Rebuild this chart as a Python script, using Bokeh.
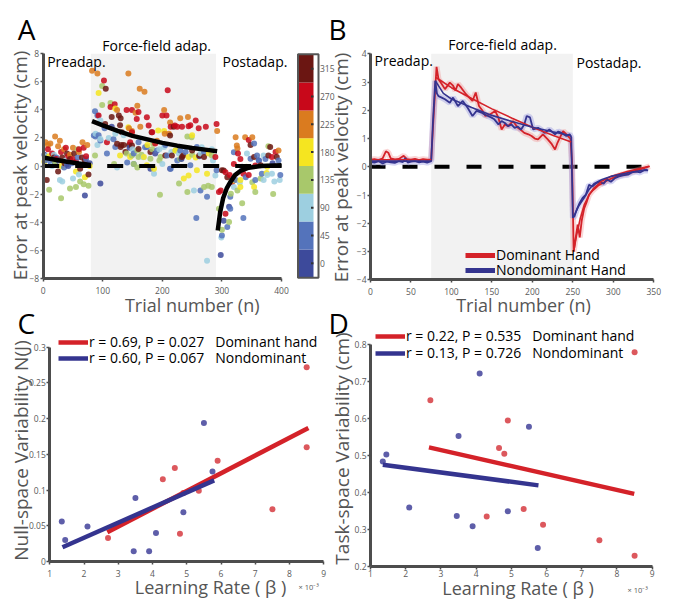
import math
from bokeh.plotting import figure
from bokeh.models import (Range1d, Label, Legend, LegendItem, FixedTicker, LinearAxis,
                          NumeralTickFormatter, ColumnDataSource)
from bokeh.embed import file_html
from bokeh.resources import INLINE

FONT = "Open Sans"
AX = "#4d4d4d"
TICKC = "#5a5a5a"
LABC = "#555555"
W, H = 674, 599

# ---------------- Panel A : trial errors per target direction ----------------
dir_angles = [0, 45, 90, 135, 180, 225, 270, 315]
dir_colors = ["#3d4a9b", "#5473bb", "#9dcfe0", "#a8c86b",
              "#f5e520", "#da7b1f", "#c8081a", "#6b1612"]

a_t000 = [2, 20, 26, 42, 60, 70, 78, 96, 115, 145, 188, 232, 262, 298, 303, 312, 362, 385, 180, 213]
a_e000 = [0.8, 0.2, 0.4, 0.0, 0.1, -2.1, 0.2, -1.25, 2.8, 1.3, 0.9, 0.5, 0.7, -6.35, -3.9, -2.9, 0.4, 0.2, -0.2, -0.2]
a_t045 = [3, 12, 22, 35, 40, 48, 58, 72,
          85, 87, 88, 91, 93, 103, 107, 118, 121, 141, 152, 160, 174, 191, 205, 208, 214, 239, 247, 257, 258, 264, 270, 275, 291,
          300, 309, 314, 314, 320, 323, 334, 336, 340, 348, 354, 356, 359, 362, 367, 373, 395, 398,
          96, 152, 171, 225, 230]
a_e045 = [0.4, 0.3, 0.6, -0.1, 0.1, 0.2, 0.6, 0.5,
          2.17, 3.9, 2.1, 3.6, 2.2, 2.7, 0.9, 1.9, 1.35, 0.25, 0.9, 1.7, 1.35, 1.1, 1.5, 0.75, -0.2, 1.0, 0.05, -3.7, 1.35, -1.75, 1.0, -2.2, -0.3,
          -4.95, -4.35, -3.05, -2.2, 0.98, -1.0, -0.05, -3.7, -0.8, 0.51, 1.6, -1.0, 0.75, 0.4, -0.55, 0.5, 0.4, -0.65,
          1.82, 0.15, 1.34, 0.4, 1.1]
a_t090 = [5, 15, 18, 28, 32, 38, 50, 60, 91, 96, 96, 110, 121, 124, 135, 150, 186, 200, 203, 215, 228, 253, 264, 275, 283, 285,
          299, 320, 330, 342, 370, 370, 376, 384, 388, 397, 88, 168, 195, 266, 289]
a_e090 = [0.7, 0.0, 0.8, -1.0, -1.1, 0.4, -0.9, -0.6, 1.5, 3.25, 1.93, 2.0, 2.3, -0.1, 2.2, 1.2, -0.55, 0.15, 1.35, 1.0, 0.9, -1.75, 0.9, -6.75, 1.2, 0.4,
          -5.1, -1.5, -1.2, 0.9, 0.75, -1.0, -0.65, -0.55, -1.1, -1.0, 2.3, 0.63, 1.2, 1.34, -0.68]
a_t135 = [10, 20, 30, 45, 55, 58, 62, 68, 76, 99, 99, 113, 119, 140, 152, 158, 158, 160, 165, 183, 185, 196, 197, 222, 228, 242, 242, 250,
          270, 277, 283, 295, 300, 312, 315, 326, 334, 341, 351, 356, 365, 378, 386,
          87, 149, 180, 195, 230, 249, 283]
a_e135 = [-1.7, 0.3, -2.3, -1.6, -1.5, 1.2, -1.1, -1.3, -1.4, 5.7, 4.35, 4.5, 0.15, 0.9, 0.15, 1.1, -0.1, 0.65, 0.8, 1.2, 1.6, -2.05, 0.65, 1.1, -1.25, 2.1, -1.85, 0.8,
          -1.5, -1.4, -1.5, -3.05, -4.55, -4.0, -1.98, -1.75, -2.65, -0.05, -1.15, -1.85, -0.9, 1.4, -2.0,
          0.75, 0.75, 0.51, 0.4, 0.5, 2.05, 0.75]
a_t180 = [2, 10, 30, 55, 70, 78, 93, 121, 129, 143, 146, 169, 174, 175, 203, 236, 244, 250, 258, 275, 278, 320, 331, 331, 354, 375, 376,
          186, 193, 222, 244, 256]
a_e180 = [0.3, 0.7, 0.0, -0.4, -0.8, 0.0, 5.2, 4.1, 0.75, 2.76, 0.65, 0.65, 0.05, 1.5, 2.5, -0.9, 0.65, 2.2, -0.3, -0.55, 0.9, -1.03, -1.0, -1.5, -1.5, -0.5, -0.05,
          -0.2, 2.53, 1.1, -0.68, 0.6]
a_t225 = [4, 8, 12, 20, 25, 28, 35, 45, 50, 60, 66, 74, 82, 91, 143, 144, 149, 155, 158, 162, 163, 170, 191, 203, 211, 230, 243, 292,
          323, 325, 326, 339, 351, 395, 124, 204, 213]
a_e225 = [1.7, 1.5, 1.6, 2.1, 1.4, 1.8, 1.2, 0.8, 1.3, 1.0, 1.7, 1.5, 6.8, 6.6, 6.6, 2.7, 2.5, 3.8, 4.3, 5.5, 2.8, 5.3, 1.8, 4.0, 2.3, 3.4, 3.5, 2.5,
          2.05, 1.46, 1.25, 2.05, 2.05, 1.1, 4.0, 2.3, 3.1]
a_t270 = [8, 15, 22, 30, 38, 42, 50, 55, 60, 68, 72, 93, 102, 107, 113, 120, 140, 146, 149, 183, 188, 200, 207, 209, 214, 225, 233, 247,
          256, 261, 273, 289, 291, 295, 298, 306, 306, 313, 317, 320, 327, 331, 336, 345, 345, 356, 384, 390,
          149, 157, 160, 174, 177, 221, 244]
a_e270 = [1.2, 0.9, 0.5, 1.0, 1.3, 0.7, 0.5, 0.3, 1.2, 1.3, 0.7, 3.6, 6.1, 1.7, 4.2, 4.4, 4.0, 1.7, 4.0, 2.4, 1.6, 3.6, 3.6, 5.4, 2.8, 2.8, 2.8, 2.9,
          3.25, 2.7, 2.8, 0.65, 3.0, -1.86, -1.75, -3.4, -0.45, -0.65, -1.15, 0.15, 0.9, 0.5, -0.55, 1.85, -0.65, 0.03, 0.65, 1.0,
          2.41, 3.36, 3.85, 3.48, 2.89, 2.89, 2.84]
a_t315 = [6, 18, 25, 32, 36, 40, 45, 52, 62, 65, 70, 76, 104, 105, 115, 124, 127, 129, 130, 130, 131, 135, 138, 144, 180, 216, 219, 233,
          250, 270, 300, 303, 309, 348, 354, 365, 378, 381, 392,
          132, 149, 160, 182, 205, 213, 235, 262]
a_e315 = [-1.0, 0.6, -0.4, 0.6, 0.2, 0.9, 0.5, 0.9, -0.2, 0.6, 0.4, -0.6, 3.0, 5.5, 3.5, 1.58, 3.6, 2.9, 3.4, 1.35, 1.5, 1.5, 1.0, 1.5, 1.0, 0.75, 2.8, 0.65,
          1.1, 0.65, -0.3, -0.32, -0.8, 1.5, 0.65, 0.05, 0.75, 1.35, 0.65,
          2.4, 1.46, 1.22, 2.41, 0.75, 2.17, 0.75, 0.75]

a_fit_pre_t = [0, 20, 40, 60, 80]
a_fit_pre_e = [0.6, 0.45, 0.3, 0.18, 0.08]
a_fit_ff_t = [82, 100, 125, 150, 175, 200, 225, 250, 275, 292]
a_fit_ff_e = [3.2, 2.9, 2.5, 2.15, 1.9, 1.65, 1.45, 1.28, 1.15, 1.05]
a_fit_post_t = [293, 297, 302, 308, 314, 322, 331, 345, 365, 400]
a_fit_post_e = [-4.6, -3.3, -2.3, -1.6, -1.15, -0.65, -0.35, -0.12, 0.0, 0.05]
a_block = [80, 290]
a_xlim = [0, 400]
a_ylim = [-8, 8]

# ---------------- Panel B : mean error traces ----------------
b_block = [75, 250]
b_xlim = [0, 350]
b_ylim = [-4, 4]
b_dom_t = [0, 5, 10, 15, 19, 22, 25, 30, 35, 41, 45, 50, 55, 60, 65, 70, 75, 78, 81.6, 84,
           88, 92, 98, 102, 105, 108, 112, 118, 122, 126, 130, 134, 138, 142, 148, 154, 158, 162, 166, 170,
           176, 182, 186, 190, 195, 199, 203, 207, 213, 219, 224, 228, 231, 234, 238, 244, 247, 249, 251, 253,
           256, 258.5, 261, 264, 267, 270, 274, 278, 282, 286.6, 290, 295, 299, 305, 310, 315, 320, 326, 332, 338, 345]
b_dom_e = [0.25, 0.27, 0.24, 0.3, 0.55, 0.5, 0.3, 0.26, 0.28, 0.39, 0.27, 0.25, 0.28, 0.24, 0.27, 0.25, 0.26, 1.8, 3.54, 3.1,
           2.93, 2.75, 2.98, 2.87, 2.7, 2.93, 2.8, 2.57, 2.45, 2.33, 2.63, 2.15, 2.0, 1.8, 1.86, 1.98, 1.74, 1.32, 1.5, 1.44,
           1.62, 1.38, 1.3, 1.2, 1.15, 1.09, 1.0, 0.97, 1.15, 0.97, 0.8, 0.61, 0.85, 1.03, 1.26, 1.09, 1.0, 0.2, -3.0, -2.6,
           -2.05, -2.5, -1.9, -1.47, -1.25, -0.99, -0.85, -0.75, -0.65, -0.58, -0.52, -0.45, -0.4, -0.33, -0.28, -0.25, -0.2, -0.15, -0.1, -0.05, 0.02]
b_non_t = [0, 5, 10, 15, 20, 25, 30, 35, 40, 43, 46, 50, 55, 60, 65, 70, 75, 77, 80, 82,
           84, 88, 92, 98, 102, 105, 108, 114, 120, 126, 131, 137, 141, 145, 149, 153, 158, 162, 166, 170,
           174, 178, 182, 186, 190, 193, 197, 201, 207, 211, 215, 221, 228, 232, 236, 242, 246, 248, 250, 252,
           255, 258, 262, 266, 270, 274, 278, 283, 288, 292, 297, 302, 307, 312, 318, 323, 328, 333, 338, 343]
b_non_e = [0.17, 0.15, 0.2, 0.12, 0.18, 0.16, 0.14, 0.2, 0.17, 0.3, 0.15, 0.18, 0.2, 0.16, 0.18, 0.15, 0.2, 1.5, 3.04, 2.6,
           2.5, 2.45, 2.39, 2.27, 2.45, 2.3, 2.15, 2.33, 2.09, 1.8, 1.98, 1.92, 1.85, 1.8, 1.75, 1.68, 1.5, 1.62, 1.55, 1.44,
           1.5, 1.38, 1.42, 1.32, 1.5, 1.8, 1.75, 1.32, 1.38, 1.3, 1.2, 1.32, 1.15, 1.25, 1.2, 1.09, 1.15, 1.05, -1.8, -1.75,
           -1.5, -1.3, -1.1, -0.99, -0.64, -0.7, -0.6, -0.53, -0.6, -0.45, -0.53, -0.4, -0.34, -0.3, -0.28, -0.2, -0.17, -0.2, -0.12, -0.13]
b_dom_fit = [([0, 75], [0.25, 0.25]),
             ([81, 100, 125, 150, 175, 200, 225, 248], [3.16, 2.8, 2.42, 2.05, 1.72, 1.4, 1.12, 0.88]),
             ([251, 254.6, 259, 264, 270, 276, 286, 297, 317, 344], [-3.0, -2.42, -1.85, -1.35, -1.0, -0.75, -0.5, -0.34, -0.17, 0.02])]
b_non_fit = [([0, 75], [0.2, 0.2]),
             ([80, 90, 100, 125, 150, 175, 200, 225, 248], [3.05, 2.6, 2.4, 2.1, 1.82, 1.6, 1.4, 1.24, 1.1]),
             ([251, 257, 264, 270, 276, 286, 297, 320, 342], [-1.76, -1.4, -1.1, -0.8, -0.6, -0.45, -0.34, -0.2, -0.1])]

# ---------------- Panels C / D : learning rate vs variability ----------------
lr_dom = [2.7, 4.3, 4.65, 4.8, 4.9, 5.35, 5.9, 7.5, 8.5, 8.5]
lr_non = [1.35, 1.45, 2.1, 3.45, 3.5, 3.9, 4.1, 4.9, 5.5, 5.75]
null_dom = [0.033, 0.115, 0.131, 0.039, 0.096, 0.099, 0.141, 0.073, 0.272, 0.160]
null_non = [0.056, 0.030, 0.049, 0.0145, 0.089, 0.0145, 0.040, 0.069, 0.194, 0.126]
task_dom = [0.65, 0.335, 0.52, 0.505, 0.595, 0.355, 0.312, 0.27, 0.78, 0.228]
task_non = [0.484, 0.503, 0.359, 0.336, 0.553, 0.308, 0.722, 0.349, 0.578, 0.249]
c_fit_dom = ([2.68, 8.55], [0.041, 0.187])
c_fit_non = ([1.37, 5.8], [0.020, 0.1136])
d_fit_dom = ([2.66, 8.49], [0.522, 0.396])
d_fit_non = ([1.35, 5.77], [0.475, 0.419])
c_leg = ["r = 0.69, P = 0.027\u00a0\u00a0\u00a0Dominant hand", "r = 0.60, P = 0.067\u00a0\u00a0\u00a0Nondominant"]
d_leg = ["r = 0.22, P = 0.535\u00a0\u00a0\u00a0Dominant hand", "r = 0.13, P = 0.726\u00a0\u00a0\u00a0Nondominant"]

RED = "#d42229"
BLUE = "#34348f"
RED_PT = "#d8464b"
BLUE_PT = "#4d4da0"

# ---------------- layout: where each panel's axes box sits (pixels) ----------------
# (data_lo, pixel_lo, data_hi, pixel_hi) for x and for y (pixel y measured from top)
boxes = {
    "a": ((0, 42.7, 400, 281.0), (-8, 277.7, 8, 53.3)),
    "b": ((0, 370.0, 350, 653.3), (-4, 279.3, 4, 53.3)),
    "c": ((1, 49.3, 9, 323.3), (0, 561.0, 0.3, 346.7)),
    "d": ((1, 370.0, 9, 651.7), (0.2, 565.7, 0.8, 344.3)),
}
cb_map = (-22.5, 276.7, 337.5, 54.3)


def lin_range(d0, p0, d1, p1, lo, hi):
    s = (d1 - d0) / (p1 - p0)
    return Range1d(start=d0 + (lo - p0) * s, end=d0 + (hi - p0) * s)


p = figure(width=W, height=H, x_range=Range1d(0, W), y_range=Range1d(H, 0),
           min_border=0, min_border_left=0, min_border_right=0, min_border_top=0, min_border_bottom=0,
           x_axis_location=None, y_axis_location=None,
           output_backend="svg", toolbar_location=None)
p.outline_line_color = None
p.grid.visible = False
p.background_fill_color = "white"
p.border_fill_color = "white"

for k, (bx, by) in boxes.items():
    p.extra_x_ranges[k + "x"] = lin_range(*bx, 0, W)
    p.extra_y_ranges[k + "y"] = lin_range(*by, H, 0)
p.extra_y_ranges["cb"] = lin_range(*cb_map, H, 0)


def add_axes(k, xlim, ylim, xticks, yticks, xstand, xfmt=None, yfmt=None):
    xa = LinearAxis(x_range_name=k + "x", y_range_name=k + "y", fixed_location=ylim[0],
                    bounds=tuple(xlim), ticker=FixedTicker(ticks=xticks))
    ya = LinearAxis(x_range_name=k + "x", y_range_name=k + "y", fixed_location=xlim[0],
                    bounds=tuple(ylim), ticker=FixedTicker(ticks=yticks))
    if xfmt:
        xa.formatter = xfmt
    if yfmt:
        ya.formatter = yfmt
    for ax in (xa, ya):
        ax.axis_line_width = 3
        ax.axis_line_color = AX
        ax.major_tick_line_color = AX
        ax.major_tick_line_width = 1.5
        ax.major_tick_out = 3
        ax.major_tick_in = 0
        ax.minor_tick_line_color = None
        ax.major_label_text_font = FONT
        ax.major_label_text_font_size = "8.5px"
        ax.major_label_text_color = TICKC
    xa.major_label_standoff = xstand
    ya.major_label_standoff = 1
    p.add_layout(xa, "below")
    p.add_layout(ya, "left")


def R(k):
    return dict(x_range_name=k + "x", y_range_name=k + "y")


def txt(x, y, s, size, color="black", align="left", angle=0.0, **kw):
    # (x, y) is the visual centre line of the text (pixels from top-left)
    p.add_layout(Label(x=x, y=y, text=s, text_font=FONT, text_font_size=f"{size}px",
                       text_color=color, text_align=align, text_baseline="middle",
                       angle=angle, **kw))


def legend(label, rend, left, center):
    lg = Legend(items=[LegendItem(label=label, renderers=[rend])],
                location=(left, H - center - 10),
                glyph_width=30, glyph_height=14, label_height=14, label_standoff=1,
                padding=0, margin=0, spacing=0, border_line_color=None,
                background_fill_alpha=0, label_text_font=FONT,
                label_text_font_size="14px", label_text_color="black")
    p.add_layout(lg)


# ======================= Panel A =======================
p.quad(left=a_block[0], right=a_block[1], bottom=a_ylim[0], top=a_ylim[1],
       fill_color="#f2f2f2", line_color=None, **R("a"))
a_trials = [a_t000, a_t045, a_t090, a_t135, a_t180, a_t225, a_t270, a_t315]
a_errors = [a_e000, a_e045, a_e090, a_e135, a_e180, a_e225, a_e270, a_e315]
at, ae, ac = [], [], []
for ts, es, col in zip(a_trials, a_errors, dir_colors):
    assert len(ts) == len(es)
    at += ts
    ae += es
    ac += [col] * len(ts)
order = sorted(range(len(at)), key=lambda i: at[i])
src = ColumnDataSource(dict(t=[at[i] for i in order], e=[ae[i] for i in order],
                            c=[ac[i] for i in order]))
p.scatter("t", "e", source=src, size=6, fill_color="c", line_color=None, fill_alpha=0.85, **R("a"))
p.line(a_xlim, [0, 0], line_color="black", line_width=4, line_dash="16 16", **R("a"))
for ft, fe in [(a_fit_pre_t, a_fit_pre_e), (a_fit_ff_t, a_fit_ff_e), (a_fit_post_t, a_fit_post_e)]:
    p.line(ft, fe, line_color="black", line_width=4.5, **R("a"))
add_axes("a", a_xlim, a_ylim, [0, 100, 200, 300, 400], list(range(-8, 9, 2)), 6)

# colour bar
p.quad(left=298.5, right=313, bottom=[a - 22.5 for a in dir_angles], top=[a + 22.5 for a in dir_angles],
       fill_color=dir_colors, line_color=None, y_range_name="cb")
p.quad(left=[297.5], right=[318], bottom=[dir_angles[0] - 23.5], top=[dir_angles[-1] + 23.5],
       fill_color=None, line_color="#555555", line_width=2, y_range_name="cb")
p.segment(x0=310.5, x1=313, y0=dir_angles, y1=dir_angles, line_color="#333333", line_width=2,
          y_range_name="cb")
for a in dir_angles:
    txt(319.5, a, str(a), 8.5, color=TICKC, y_range_name="cb")

# ======================= Panel B =======================
p.quad(left=b_block[0], right=b_block[1], bottom=b_ylim[0], top=b_ylim[1],
       fill_color="#f2f2f2", line_color=None, **R("b"))
p.line(b_xlim, [0, 0], line_color="black", line_width=4, line_dash="15 17", **R("b"))
p.line(b_dom_t, b_dom_e, line_color="#f08a8a", line_width=6, line_alpha=0.35, **R("b"))
p.line(b_non_t, b_non_e, line_color="#8a8ae0", line_width=6, line_alpha=0.35, **R("b"))
p.line(b_dom_t, b_dom_e, line_color=RED, line_width=1.8, **R("b"))
p.line(b_non_t, b_non_e, line_color=BLUE, line_width=1.8, **R("b"))
for ft, fe in b_dom_fit:
    p.line(ft, fe, line_color=RED, line_width=1.6, **R("b"))
for ft, fe in b_non_fit:
    p.line(ft, fe, line_color=BLUE, line_width=1.6, **R("b"))
leg_r = p.line(b_dom_t[:1], b_dom_e[:1], line_color=RED, line_width=5, **R("b"))
leg_b = p.line(b_non_t[:1], b_non_e[:1], line_color=BLUE, line_width=5, **R("b"))
add_axes("b", b_xlim, b_ylim, list(range(0, 351, 50)), list(range(-4, 5)), 5)
legend("Dominant Hand", leg_r, 465, 254)
legend("Nondominant Hand", leg_b, 465, 269)

# ======================= Panel C =======================
p.scatter(lr_dom, null_dom, size=6, fill_color=RED_PT, line_color=None, fill_alpha=0.9, **R("c"))
p.scatter(lr_non, null_non, size=6, fill_color=BLUE_PT, line_color=None, fill_alpha=0.9, **R("c"))
c_r = p.line(*c_fit_dom, line_color=RED, line_width=4.5, **R("c"))
c_b = p.line(*c_fit_non, line_color=BLUE, line_width=4.5, **R("c"))
add_axes("c", [1, 9], [0, 0.3], list(range(1, 10)), [0, 0.05, 0.1, 0.15, 0.2, 0.25, 0.3], 5,
         yfmt=NumeralTickFormatter(format="0.[00]"))
legend(c_leg[0], c_r, 58, 341)
legend(c_leg[1], c_b, 58, 357)

# ======================= Panel D =======================
p.scatter(lr_dom, task_dom, size=6, fill_color=RED_PT, line_color=None, fill_alpha=0.9, **R("d"))
p.scatter(lr_non, task_non, size=6, fill_color=BLUE_PT, line_color=None, fill_alpha=0.9, **R("d"))
d_r = p.line(*d_fit_dom, line_color=RED, line_width=4.5, **R("d"))
d_b = p.line(*d_fit_non, line_color=BLUE, line_width=4.5, **R("d"))
add_axes("d", [1, 9], [0.2, 0.8], list(range(1, 10)), [0.2, 0.3, 0.4, 0.5, 0.6, 0.7, 0.8], 1,
         yfmt=NumeralTickFormatter(format="0.[0]"))
legend(d_leg[0], d_r, 375, 335)
legend(d_leg[1], d_b, 375, 352)

# ======================= texts (pixel positions of their centre lines) =======================
UP = math.pi / 2
txt(17.3, 28, "A", 28)
txt(46.7, 61, "Preadap.", 14)
txt(156.2, 45, "Force-field adap.", 14, align="center")
txt(222, 61, "Postadap.", 14)
txt(191.7, 304, "Trial number (n)", 18, color=LABC, align="center")
txt(19.5, 165, "Error at peak velocity (cm)", 19, color=LABC, align="center", angle=UP)

txt(328, 28, "B", 28)
txt(374, 60, "Preadap.", 14)
txt(502, 44, "Force-field adap.", 14, align="center")
txt(576, 61.5, "Postadap.", 14)
txt(523, 304.5, "Trial number (n)", 18, color=LABC, align="center")
txt(340.5, 167, "Error at peak velocity (cm)", 19, color=LABC, align="center", angle=UP)

txt(17, 322, "C", 28)
txt(210, 586, "Learning Rate ( \u03b2 )", 18, color=LABC, align="center")
txt(298, 586, "\u00d7 10\u207b\u00b3", 7.5, color=TICKC)
txt(20.5, 450, "Null-space Variability N(J)", 19, color=LABC, align="center", angle=UP)

txt(328, 322, "D", 28)
txt(517.5, 587, "Learning Rate ( \u03b2 )", 18, color=LABC, align="center")
txt(627, 589, "\u00d7 10\u207b\u00b3", 7.5, color=TICKC)
txt(341.5, 448, "Task-space Variability (cm)", 19, color=LABC, align="center", angle=UP)

open("out.html", "w").write(file_html(p, INLINE))
